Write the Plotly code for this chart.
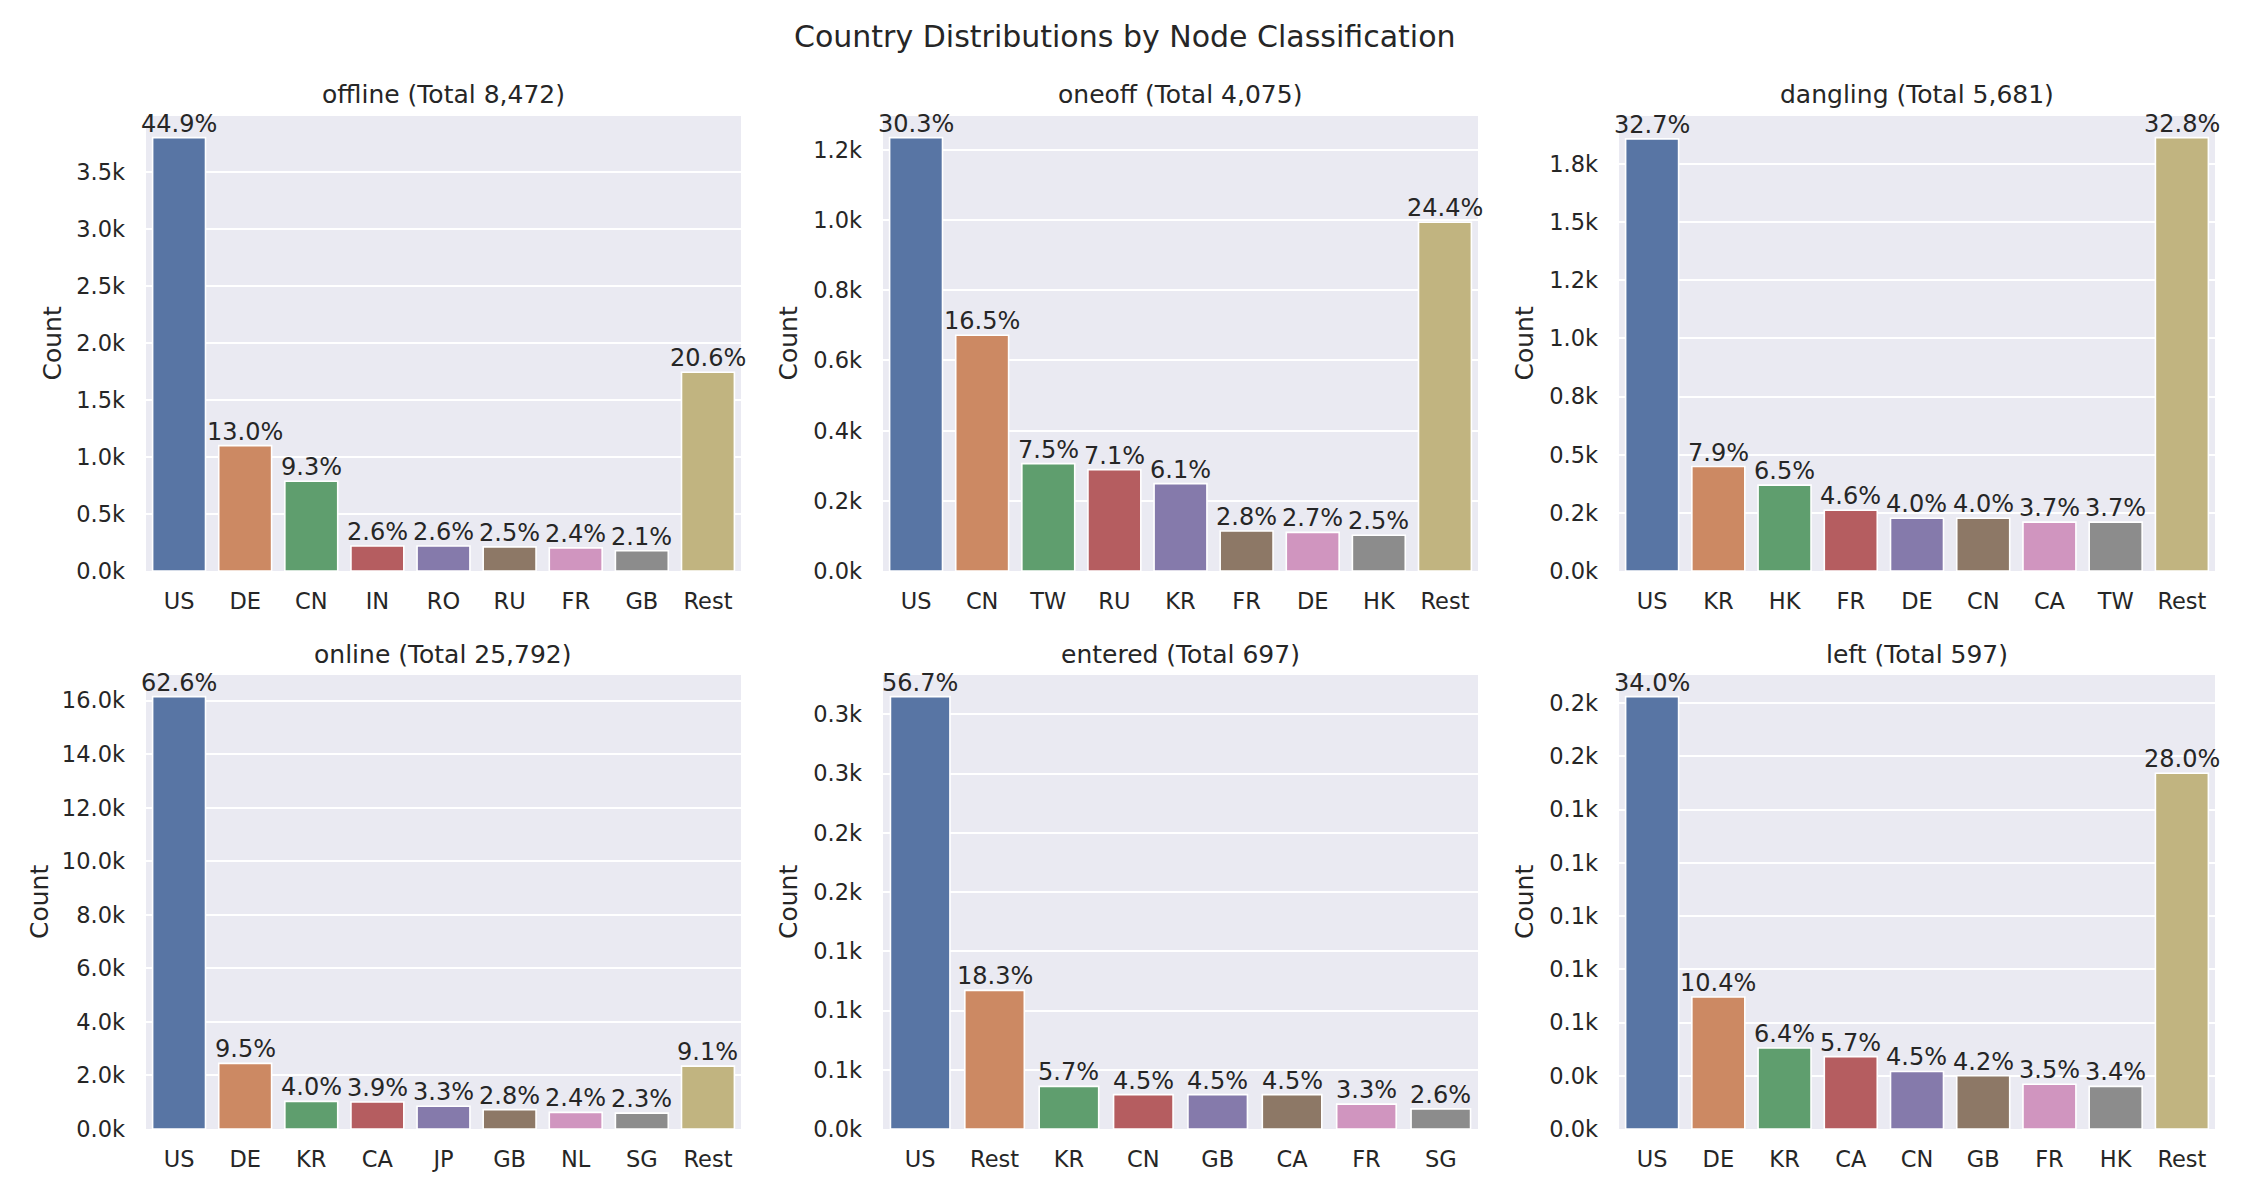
import numpy as np
import plotly.graph_objects as go
from plotly.subplots import make_subplots

# ---------------- data ----------------
offline_countries = ["US", "DE", "CN", "IN", "RO", "RU", "FR", "GB", "Rest"]
offline_counts = [3804, 1101, 788, 220, 220, 212, 203, 178, 1745]
offline_pct = [44.9, 13.0, 9.3, 2.6, 2.6, 2.5, 2.4, 2.1, 20.6]

oneoff_countries = ["US", "CN", "TW", "RU", "KR", "FR", "DE", "HK", "Rest"]
oneoff_counts = [1235, 672, 306, 289, 249, 114, 110, 102, 994]
oneoff_pct = [30.3, 16.5, 7.5, 7.1, 6.1, 2.8, 2.7, 2.5, 24.4]

dangling_countries = ["US", "KR", "HK", "FR", "DE", "CN", "CA", "TW", "Rest"]
dangling_counts = [1858, 449, 369, 261, 227, 227, 210, 210, 1863]
dangling_pct = [32.7, 7.9, 6.5, 4.6, 4.0, 4.0, 3.7, 3.7, 32.8]

online_countries = ["US", "DE", "KR", "CA", "JP", "GB", "NL", "SG", "Rest"]
online_counts = [16146, 2450, 1032, 1006, 851, 722, 619, 593, 2347]
online_pct = [62.6, 9.5, 4.0, 3.9, 3.3, 2.8, 2.4, 2.3, 9.1]

entered_countries = ["US", "Rest", "KR", "CN", "GB", "CA", "FR", "SG"]
entered_counts = [365, 117, 36, 29, 29, 29, 21, 17]
entered_pct = [56.7, 18.3, 5.7, 4.5, 4.5, 4.5, 3.3, 2.6]

left_countries = ["US", "DE", "KR", "CA", "CN", "GB", "FR", "HK", "Rest"]
left_counts = [203, 62, 38, 34, 27, 25, 21, 20, 167]
left_pct = [34.0, 10.4, 6.4, 5.7, 4.5, 4.2, 3.5, 3.4, 28.0]

panel_names = ["offline", "oneoff", "dangling", "online", "entered", "left"]
panel_totals = [8472, 4075, 5681, 25792, 697, 597]
tick_steps = [500, 200, 250, 2000, 50, 25]

panels = [
    (offline_countries, offline_counts, offline_pct),
    (oneoff_countries, oneoff_counts, oneoff_pct),
    (dangling_countries, dangling_counts, dangling_pct),
    (online_countries, online_counts, online_pct),
    (entered_countries, entered_counts, entered_pct),
    (left_countries, left_counts, left_pct),
]

# ---------------- style ----------------
W, H = 2250, 1200
FONT = "DejaVu Sans"
TXT = "#262626"
BG = "#EAEAF2"
colors = ["#5875A4", "#CC8963", "#5F9E6E", "#B55D60", "#857AAB",
          "#8D7866", "#D095BF", "#8C8C8C", "#C1B480"]

col_px = [(146, 741), (883, 1478), (1619, 2215)]
row_px = [(116, 571), (675, 1129)]
ylabel_x_px = [[52, 788, 1524], [39, 788, 1524]]

fig = make_subplots(rows=2, cols=3)

annotations = []
for i, ((cats, counts, pcts), name, total, step) in enumerate(
        zip(panels, panel_names, panel_totals, tick_steps)):
    r, c = divmod(i, 3)
    idx = i + 1
    fig.add_trace(go.Bar(
        x=cats, y=counts,
        marker=dict(color=colors[:len(cats)], line=dict(color="white", width=1.6)),
        width=0.8, showlegend=False, hoverinfo="x+y",
    ), row=r + 1, col=c + 1)

    ymax = max(counts) * 1.05
    tickvals = np.arange(0, ymax + 1e-9, step)
    ticktext = [f"{v/1000:.1f}k" for v in tickvals]

    x0, x1 = col_px[c]
    ytop, ybot = row_px[r]
    xd = [x0 / W, x1 / W]
    yd = [1 - ybot / H, 1 - ytop / H]
    xa = "xaxis" if idx == 1 else f"xaxis{idx}"
    ya = "yaxis" if idx == 1 else f"yaxis{idx}"
    fig.layout[xa].update(
        domain=xd, range=[-0.5, len(cats) - 0.5], showgrid=False, zeroline=False,
        showline=False, ticks="", ticklabelstandoff=14, automargin=False,
        tickfont=dict(family=FONT, size=22.5, color=TXT),
    )
    fig.layout[ya].update(
        domain=yd, range=[0, ymax], tickvals=list(tickvals), ticktext=ticktext,
        showgrid=True, gridcolor="white", gridwidth=2, zeroline=False,
        showline=False, ticks="", ticklabelstandoff=20, automargin=False,
        tickfont=dict(family=FONT, size=22.5, color=TXT),
    )

    xref = "x" if idx == 1 else f"x{idx}"
    yref = "y" if idx == 1 else f"y{idx}"
    for cat, cnt, p in zip(cats, counts, pcts):
        annotations.append(dict(
            x=cat, y=cnt, xref=xref, yref=yref, text=f"{p:.1f}%",
            showarrow=False, yanchor="bottom", yshift=-2,
            font=dict(family=FONT, size=24, color=TXT),
        ))
    # subplot title
    annotations.append(dict(
        x=(x0 + x1) / 2 / W, y=1 - (ytop - 21) / H, xref="paper", yref="paper",
        text=f"{name} (Total {total:,})", showarrow=False,
        xanchor="center", yanchor="middle",
        font=dict(family=FONT, size=25, color=TXT),
    ))
    # y-axis title
    annotations.append(dict(
        x=ylabel_x_px[r][c] / W, y=1 - (ytop + ybot) / 2 / H,
        xref="paper", yref="paper", text="Count", textangle=-90,
        showarrow=False, xanchor="center", yanchor="middle",
        font=dict(family=FONT, size=25, color=TXT),
    ))

annotations.append(dict(
    x=0.5, y=1 - 36 / H, xref="paper", yref="paper",
    text="Country Distributions by Node Classification", showarrow=False,
    xanchor="center", yanchor="middle",
    font=dict(family=FONT, size=30, color=TXT),
))

fig.update_layout(
    width=W, height=H, autosize=False,
    margin=dict(l=0, r=0, t=0, b=0, pad=0),
    paper_bgcolor="white", plot_bgcolor=BG,
    font=dict(family=FONT, color=TXT),
    annotations=annotations,
    bargap=0.2,
)

fig.write_html(
    "out.html",
    config={"displayModeBar": False, "responsive": False},
    post_script=(
        "document.documentElement.style.margin='0';"
        "document.documentElement.style.overflow='hidden';"
        "document.body.style.margin='0';"
        "document.body.style.overflow='hidden';"
    ),
)
